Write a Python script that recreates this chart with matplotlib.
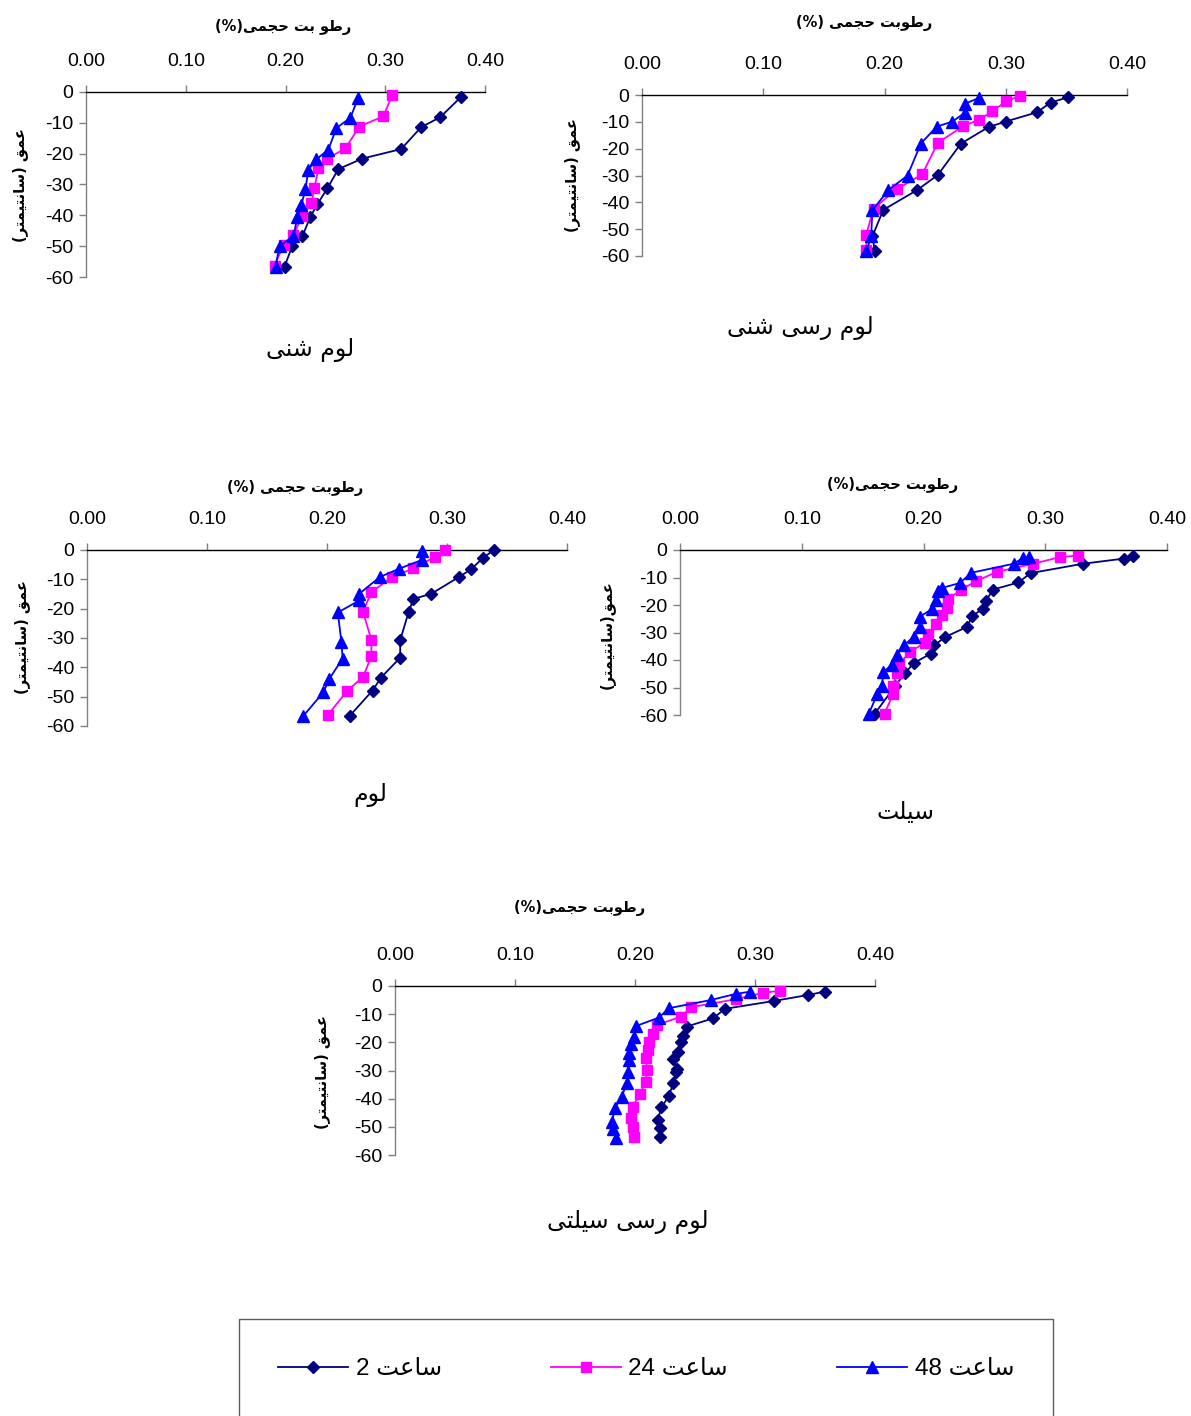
import re
import matplotlib
matplotlib.use("Agg")
import matplotlib.pyplot as plt

plt.rcParams["font.family"] = ["Liberation Sans", "DejaVu Sans"]

# ---- data: volumetric moisture (fraction) vs depth (cm) ----
# panel 1 : لوم شنی
p1_d_2h = [-1.6, -8.2, -11.4, -18.5, -21.6, -25.0, -31.2, -36.4, -40.4, -46.7, -49.8, -56.6]
p1_v_2h = [0.376, 0.355, 0.336, 0.316, 0.277, 0.253, 0.242, 0.232, 0.225, 0.217, 0.207, 0.199]
p1_d_24h = [-1.1, -7.9, -11.2, -18.3, -21.6, -24.8, -31.0, -36.0, -40.2, -46.3, -49.6, -56.3]
p1_v_24h = [0.307, 0.298, 0.274, 0.260, 0.242, 0.233, 0.229, 0.226, 0.217, 0.208, 0.198, 0.189]
p1_d_48h = [-1.8, -8.4, -11.7, -18.7, -21.8, -25.2, -31.5, -36.6, -40.6, -46.7, -50.0, -56.6]
p1_v_48h = [0.273, 0.265, 0.251, 0.243, 0.231, 0.223, 0.220, 0.216, 0.212, 0.208, 0.194, 0.190]

# panel 2 : لوم رسی شنی
p2_d_2h = [-0.9, -2.8, -6.4, -9.9, -11.9, -18.1, -29.8, -35.4, -42.8, -52.7, -58.0]
p2_v_2h = [0.351, 0.337, 0.326, 0.300, 0.286, 0.263, 0.244, 0.227, 0.199, 0.190, 0.192]
p2_d_24h = [-0.3, -2.4, -6.1, -9.2, -11.6, -17.8, -29.6, -35.1, -42.3, -52.0, -57.7]
p2_v_24h = [0.312, 0.300, 0.289, 0.278, 0.265, 0.244, 0.231, 0.210, 0.191, 0.185, 0.185]
p2_d_48h = [-1.1, -3.3, -6.7, -9.9, -11.8, -18.1, -30.0, -35.5, -43.0, -52.7, -58.3]
p2_v_48h = [0.278, 0.266, 0.266, 0.256, 0.243, 0.230, 0.219, 0.203, 0.190, 0.189, 0.185]

# panel 3 : لوم
p3_d_2h = [0.0, -2.7, -6.6, -9.2, -14.9, -16.7, -21.2, -30.7, -36.7, -43.5, -47.9, -56.5]
p3_v_2h = [0.339, 0.330, 0.320, 0.310, 0.287, 0.272, 0.268, 0.261, 0.261, 0.245, 0.238, 0.219]
p3_d_24h = [0.0, -2.3, -6.3, -9.2, -14.4, -21.0, -30.7, -36.2, -43.3, -47.9, -56.1]
p3_v_24h = [0.298, 0.290, 0.272, 0.254, 0.237, 0.230, 0.237, 0.237, 0.230, 0.217, 0.201]
p3_d_48h = [-0.5, -3.4, -6.4, -9.2, -14.9, -17.2, -21.3, -31.3, -37.0, -43.9, -48.5, -56.7]
p3_v_48h = [0.279, 0.279, 0.260, 0.244, 0.227, 0.227, 0.209, 0.212, 0.213, 0.202, 0.197, 0.180]

# panel 4 : سیلت
p4_d_2h = [-2.2, -3.1, -5.0, -8.4, -11.8, -14.4, -18.7, -21.4, -23.9, -27.9, -31.6, -34.6,
           -37.7, -41.1, -44.7, -49.3, -59.5]
p4_v_2h = [0.372, 0.365, 0.331, 0.288, 0.278, 0.257, 0.251, 0.249, 0.240, 0.236, 0.218, 0.209,
           0.206, 0.192, 0.185, 0.177, 0.160]
p4_d_24h = [-2.0, -2.6, -5.0, -8.0, -11.4, -14.4, -17.9, -21.2, -23.6, -27.0, -30.7, -33.7,
            -37.1, -41.4, -44.7, -49.3, -52.4, -59.5]
p4_v_24h = [0.327, 0.312, 0.290, 0.260, 0.243, 0.231, 0.220, 0.219, 0.215, 0.210, 0.204, 0.201,
            0.189, 0.180, 0.178, 0.175, 0.175, 0.168]
p4_d_48h = [-2.6, -2.8, -5.0, -8.3, -12.0, -13.8, -14.8, -18.1, -21.5, -24.2, -27.9, -31.6,
            -34.6, -38.1, -41.7, -44.4, -49.3, -52.4, -59.7]
p4_v_48h = [0.287, 0.282, 0.274, 0.239, 0.230, 0.215, 0.212, 0.210, 0.207, 0.197, 0.197, 0.192,
            0.184, 0.178, 0.174, 0.167, 0.166, 0.162, 0.155]

# panel 5 : لوم رسی سیلتی
p5_d_2h = [-2.0, -3.2, -5.3, -8.1, -11.5, -14.4, -17.8, -19.9, -23.3, -26.0, -29.5, -30.5,
           -34.5, -39.2, -43.1, -47.5, -50.4, -53.7]
p5_v_2h = [0.358, 0.344, 0.316, 0.275, 0.265, 0.243, 0.240, 0.238, 0.236, 0.232, 0.235, 0.234,
           0.232, 0.228, 0.222, 0.219, 0.221, 0.221]
p5_d_24h = [-1.7, -2.4, -4.7, -7.5, -10.9, -13.9, -17.1, -19.8, -22.7, -25.7, -29.8, -34.0,
            -38.5, -42.8, -47.0, -50.2, -53.5]
p5_v_24h = [0.321, 0.307, 0.284, 0.247, 0.238, 0.218, 0.215, 0.212, 0.211, 0.209, 0.210, 0.209,
            0.204, 0.198, 0.197, 0.198, 0.199]
p5_d_48h = [-2.0, -2.8, -5.0, -7.9, -11.2, -14.2, -18.0, -20.6, -23.7, -26.3, -30.4, -34.6,
            -39.3, -43.4, -48.2, -50.9, -54.1]
p5_v_48h = [0.296, 0.284, 0.263, 0.228, 0.220, 0.201, 0.199, 0.197, 0.195, 0.195, 0.194, 0.193,
            0.189, 0.183, 0.181, 0.182, 0.184]

x_ticks = [0.0, 0.1, 0.2, 0.3, 0.4]
y_ticks = [0, -10, -20, -30, -40, -50, -60]
series_labels = ["ساعت 2", "ساعت 24", "ساعت 48"]
soil_names = ["لوم شنی", "لوم رسی شنی", "لوم", "سیلت", "لوم رسی سیلتی"]
x_titles = ["رطو بت حجمی(%)", "رطوبت حجمی (%)", "رطوبت حجمی (%)", "رطوبت حجمی(%)", "رطوبت حجمی(%)"]
y_titles = ["عمق (سانتیمتر)", "عمق (سانتیمتر)", "عمق (سانتیمتر)", "عمق(سانتیمتر)", "عمق (سانتیمتر)"]

# ---- tiny arabic/persian shaper (matplotlib has no complex text layout) ----
FORMS = {
    "ا": ("\uFE8D", "\uFE8E", None, None),
    "ب": ("\uFE8F", "\uFE90", "\uFE91", "\uFE92"),
    "ت": ("\uFE95", "\uFE96", "\uFE97", "\uFE98"),
    "ج": ("\uFE9D", "\uFE9E", "\uFE9F", "\uFEA0"),
    "ح": ("\uFEA1", "\uFEA2", "\uFEA3", "\uFEA4"),
    "ر": ("\uFEAD", "\uFEAE", None, None),
    "س": ("\uFEB1", "\uFEB2", "\uFEB3", "\uFEB4"),
    "ش": ("\uFEB5", "\uFEB6", "\uFEB7", "\uFEB8"),
    "ط": ("\uFEC1", "\uFEC2", "\uFEC3", "\uFEC4"),
    "ع": ("\uFEC9", "\uFECA", "\uFECB", "\uFECC"),
    "ق": ("\uFED5", "\uFED6", "\uFED7", "\uFED8"),
    "ل": ("\uFEDD", "\uFEDE", "\uFEDF", "\uFEE0"),
    "م": ("\uFEE1", "\uFEE2", "\uFEE3", "\uFEE4"),
    "ن": ("\uFEE5", "\uFEE6", "\uFEE7", "\uFEE8"),
    "و": ("\uFEED", "\uFEEE", None, None),
    "ی": ("\uFBFC", "\uFBFD", "\uFBFE", "\uFBFF"),
}


def fa(text):
    out = []
    for i, ch in enumerate(text):
        if ch not in FORMS:
            out.append(ch)
            continue
        prev = text[i - 1] if i > 0 else ""
        nxt = text[i + 1] if i + 1 < len(text) else ""
        iso, fin, ini, med = FORMS[ch]
        jp = prev in FORMS and FORMS[prev][2] is not None
        jn = nxt in FORMS and ini is not None
        if jp and jn:
            out.append(med)
        elif jp:
            out.append(fin)
        elif jn:
            out.append(ini)
        else:
            out.append(iso)
    s = "".join(out)[::-1]
    s = re.sub(r"\d+", lambda m: m.group(0)[::-1], s)
    return s.translate(str.maketrans("()", ")("))


W, H = 1191, 1416
fig = plt.figure(figsize=(W / 100, H / 100), dpi=100)


def px_axes(l, r, t, b):
    return fig.add_axes([l / W, 1 - b / H, (r - l) / W, (b - t) / H])


boxes = [(86, 485, 92, 277), (642, 1127, 95, 256), (87, 567, 550, 726),
         (680, 1167, 550, 715), (395, 875, 986, 1155)]
title_pos = [(283, 27), (864, 23), (295, 488), (893, 485), (580, 908)]
name_pos = [(310, 350), (800, 328), (370, 795), (905, 812), (628, 1222)]
ylab_pos = [(20, 185), (572, 175), (22, 637), (607, 635), (322, 1072)]

data = [
    [(p1_v_2h, p1_d_2h), (p1_v_24h, p1_d_24h), (p1_v_48h, p1_d_48h)],
    [(p2_v_2h, p2_d_2h), (p2_v_24h, p2_d_24h), (p2_v_48h, p2_d_48h)],
    [(p3_v_2h, p3_d_2h), (p3_v_24h, p3_d_24h), (p3_v_48h, p3_d_48h)],
    [(p4_v_2h, p4_d_2h), (p4_v_24h, p4_d_24h), (p4_v_48h, p4_d_48h)],
    [(p5_v_2h, p5_d_2h), (p5_v_24h, p5_d_24h), (p5_v_48h, p5_d_48h)],
]
styles = [
    dict(color="#000080", marker="D", markersize=6.5),
    dict(color="#FF00FF", marker="s", markersize=6.5),
    dict(color="#0000FF", marker="^", markersize=8),
]

handles = []
for k, box in enumerate(boxes):
    ax = px_axes(*box)
    for (v, d), st in zip(data[k], styles):
        ln, = ax.plot(v, d, lw=1.3, clip_on=False, zorder=3, **st)
        if k == 0:
            handles.append(ln)
    ax.set_xlim(0, 0.4)
    ax.set_ylim(-60, 0)
    ax.set_xticks(x_ticks)
    ax.set_xticklabels(["%.2f" % t for t in x_ticks])
    ax.set_yticks(y_ticks)
    ax.set_yticklabels([str(t) for t in y_ticks])
    ax.xaxis.tick_top()
    ax.tick_params(axis="x", direction="out", length=5, width=1, color="#808080",
                   labelsize=14, pad=11)
    ax.tick_params(axis="y", direction="out", length=5, width=1, color="#808080",
                   labelsize=14, pad=4)
    ax.spines["right"].set_visible(False)
    ax.spines["bottom"].set_visible(False)
    ax.spines["top"].set_linewidth(1)
    ax.spines["left"].set_linewidth(1)
    ax.spines["left"].set_color("#808080")
    ax.patch.set_alpha(0)

    tx, ty = title_pos[k]
    fig.text(tx / W, 1 - ty / H, fa(x_titles[k]), ha="center", va="center",
             fontsize=10.5, fontweight="bold", family="DejaVu Sans")
    nx, ny = name_pos[k]
    fig.text(nx / W, 1 - ny / H, fa(soil_names[k]), ha="center", va="center",
             fontsize=17, family="DejaVu Sans")
    yx, yy = ylab_pos[k]
    fig.text(yx / W, 1 - yy / H, fa(y_titles[k]), ha="center", va="center",
             rotation=90, fontsize=10.5, fontweight="bold", family="DejaVu Sans")

leg = fig.legend(handles, [fa(s) for s in series_labels], ncol=3, mode="expand",
                 loc="lower left", bbox_to_anchor=(239 / W, -3 / H, 814 / W, 0.05),
                 fontsize=17.5, frameon=True, fancybox=False, borderpad=1.6,
                 handlelength=2.9, handletextpad=0.3, borderaxespad=0)
leg.get_frame().set_edgecolor("#333333")
leg.get_frame().set_linewidth(1)

fig.savefig("out.png", dpi=100)
